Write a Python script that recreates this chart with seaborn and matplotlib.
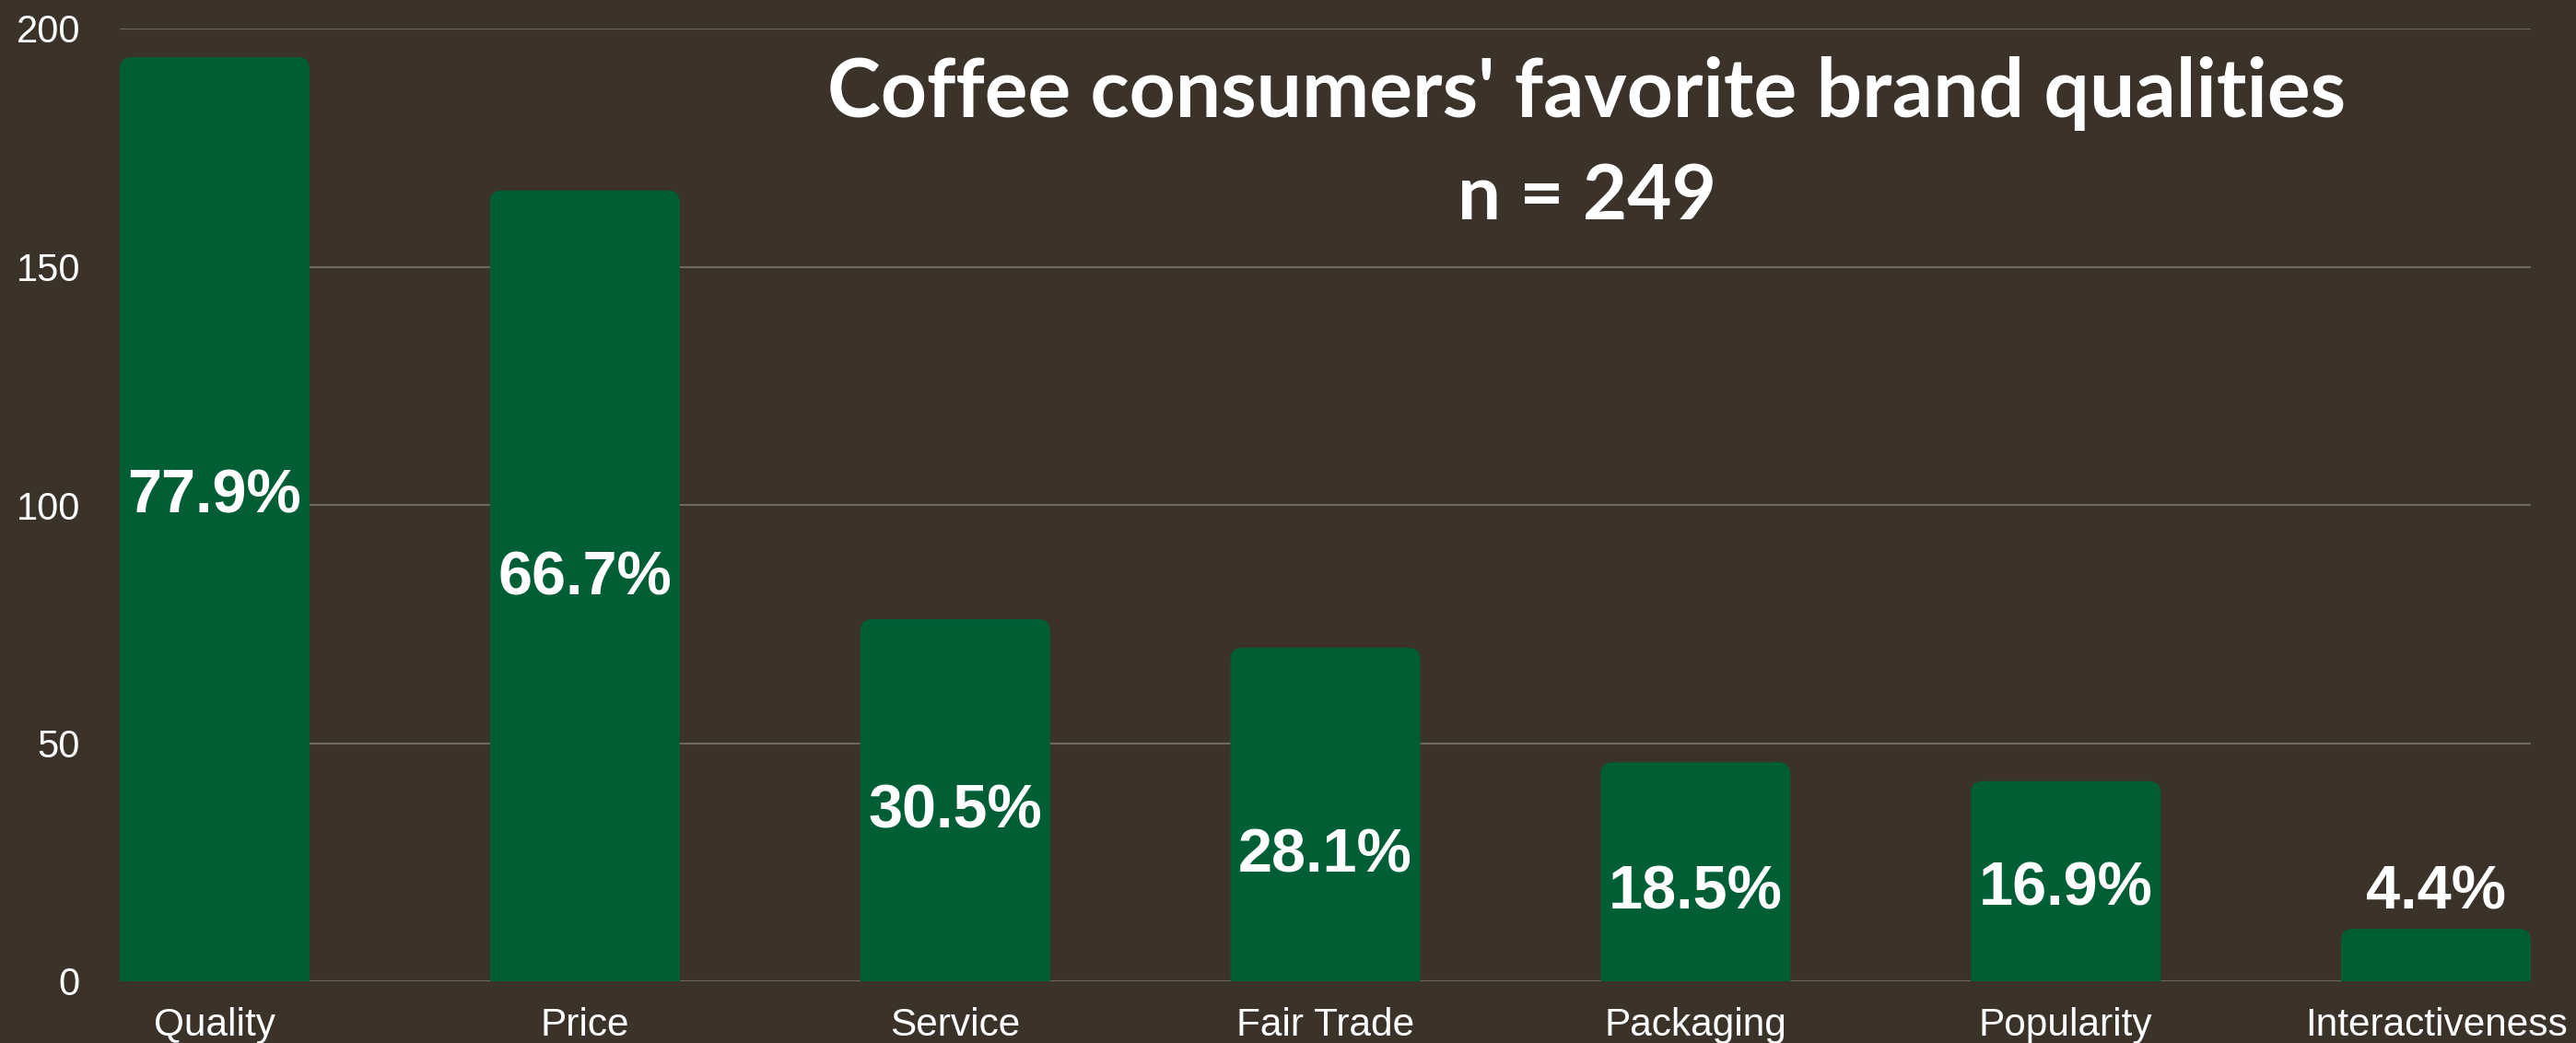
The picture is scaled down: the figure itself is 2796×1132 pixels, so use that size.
import matplotlib
matplotlib.use("Agg")
import matplotlib.pyplot as plt
from matplotlib.path import Path
from matplotlib.patches import PathPatch
import seaborn as sns
import pandas as pd

# Survey results: number of respondents choosing each brand quality
categories = ["Quality", "Price", "Service", "Fair Trade", "Packaging", "Popularity", "Interactiveness"]
counts = [194, 166, 76, 70, 46, 42, 11]
n_respondents = 249
y_ticks = [0, 50, 100, 150, 200]

# Vertical centre of each percentage label (in count units)
label_centers = [103, 85.7, 36.9, 27.6, 19.9, 20.6, 19.9]

BG = "#3b332a"
BAR = "#005e35"
GRID = "#6e6a63"
WHITE = "#ffffff"

W, H, DPI = 2796, 1132, 100
sns.set_theme(style="white")
plt.rcParams["font.family"] = ["Liberation Sans", "DejaVu Sans"]

fig = plt.figure(figsize=(W / DPI, H / DPI), dpi=DPI, facecolor=BG)
left_px, right_px, top_px, bottom_px = 130, 2747, 31, 1065
ax = fig.add_axes([left_px / W, 1 - bottom_px / H,
                   (right_px - left_px) / W, (bottom_px - top_px) / H])
ax.set_facecolor(BG)

df = pd.DataFrame({"quality": categories, "count": counts})
bar_width = 0.5126
sns.barplot(data=df, x="quality", y="count", color=BAR, saturation=1,
            width=bar_width, ax=ax, zorder=3)

half = bar_width / 2
ax.set_xlim(-half, len(categories) - 1 + half)
ax.set_ylim(0, 200)

# Replace the square bars with bars whose top corners are rounded
radius_px = 13
ax_w_px = right_px - left_px
ax_h_px = bottom_px - top_px
rx = radius_px * (len(categories) - 1 + bar_width) / ax_w_px
ry = radius_px * 200 / ax_h_px
for rect in list(ax.patches):
    x0 = rect.get_x()
    x1 = x0 + rect.get_width()
    h = rect.get_height()
    verts = [(x0, 0), (x0, h - ry), (x0, h), (x0 + rx, h),
             (x1 - rx, h), (x1, h), (x1, h - ry), (x1, 0), (x0, 0)]
    codes = [Path.MOVETO, Path.LINETO, Path.CURVE3, Path.CURVE3,
             Path.LINETO, Path.CURVE3, Path.CURVE3, Path.LINETO, Path.CLOSEPOLY]
    ax.add_patch(PathPatch(Path(verts, codes), facecolor=BAR, edgecolor="none", zorder=3))
    rect.set_visible(False)

# Grid and axes styling
ax.set_yticks(y_ticks)
ax.yaxis.grid(True, color=GRID, linewidth=1.5, zorder=0)
ax.xaxis.grid(False)
ax.set_axisbelow(True)
for s in ax.spines.values():
    s.set_visible(False)
ax.set_xlabel("")
ax.set_ylabel("")
ax.tick_params(axis="y", length=0, pad=31, labelsize=30, labelcolor=WHITE)
ax.tick_params(axis="x", length=0, pad=20, labelsize=30.5, labelcolor=WHITE)
for lbl in ax.get_yticklabels():
    lbl.set_va("center_baseline")

# Percentage labels
for i, (c, yc) in enumerate(zip(counts, label_centers)):
    pct = f"{c / n_respondents * 100:.1f}%"
    ax.annotate(pct, xy=(i, yc), xytext=(0, -17.2), textcoords="offset points",
                ha="center", va="baseline", fontsize=48, fontweight="bold",
                color=WHITE, zorder=5)

# Title block
fig.text(1722 / W, 1 - 127 / H, "Coffee consumers' favorite brand qualities",
         ha="center", va="baseline", fontsize=63, fontweight="bold",
         color=WHITE, family=["Lato", "DejaVu Sans"])
fig.text(1722 / W, 1 - 238 / H, f"n = {n_respondents}",
         ha="center", va="baseline", fontsize=60, fontweight="bold",
         color=WHITE, family=["Lato", "DejaVu Sans"])

fig.savefig("out.png", dpi=DPI, facecolor=BG)
